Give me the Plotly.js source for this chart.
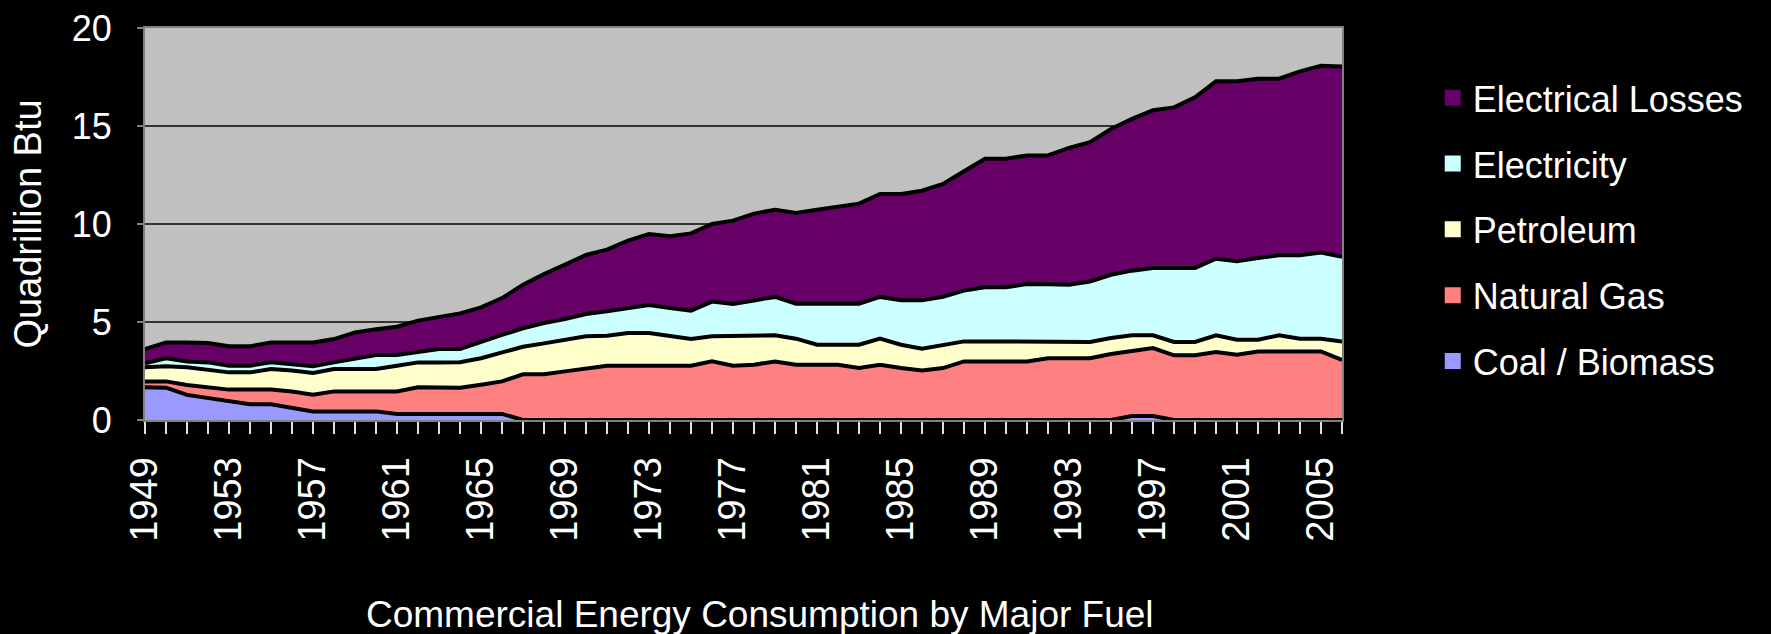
<!DOCTYPE html>
<html>
<head>
<meta charset="utf-8">
<script src="https://cdn.plot.ly/plotly-3.0.1.min.js"></script>
<style>
  html, body { margin: 0; padding: 0; background: #000000; }
  #chart { width: 1771px; height: 634px; }
</style>
</head>
<body>
<div id="chart"></div>
<script>
// ---- Data (Quadrillion Btu) ----
const years = [1949,1950,1951,1952,1953,1954,1955,1956,1957,1958,1959,1960,1961,1962,1963,1964,1965,1966,1967,1968,1969,1970,1971,1972,1973,1974,1975,1976,1977,1978,1979,1980,1981,1982,1983,1984,1985,1986,1987,1988,1989,1990,1991,1992,1993,1994,1995,1996,1997,1998,1999,2000,2001,2002,2003,2004,2005,2006];

const coalBiomass = [1.67,1.65,1.28,1.11,0.95,0.80,0.80,0.61,0.44,0.44,0.44,0.44,0.31,0.31,0.31,0.33,0.34,0.31,0,0,0,0,0,0,0,0,0,0,0,0,0,0,0,0,0,0,0,0,0,0,0,0,0,0,0,0,0,0.2,0.2,0,0,0,0,0,0,0,0,0];
const naturalGas = [0.29,0.32,0.51,0.54,0.60,0.75,0.75,0.84,0.85,1.02,1.02,1.02,1.15,1.36,1.36,1.32,1.46,1.66,2.33,2.33,2.48,2.65,2.77,2.77,2.77,2.77,2.77,2.99,2.77,2.82,2.99,2.82,2.82,2.82,2.65,2.82,2.65,2.52,2.65,2.99,2.99,2.99,2.99,3.15,3.15,3.15,3.37,3.34,3.47,3.30,3.30,3.47,3.33,3.50,3.50,3.50,3.50,3.06];
const petroleum = [0.73,0.77,0.90,0.92,0.88,0.88,1.05,1.07,1.11,1.14,1.14,1.14,1.31,1.27,1.27,1.30,1.35,1.48,1.41,1.58,1.60,1.62,1.53,1.67,1.67,1.53,1.36,1.28,1.50,1.48,1.33,1.33,1.02,1.02,1.19,1.33,1.19,1.12,1.19,1.02,1.02,1.02,1.02,0.85,0.83,0.83,0.81,0.78,0.65,0.68,0.68,0.85,0.77,0.60,0.82,0.65,0.65,0.95];
const electricity = [0.20,0.41,0.30,0.37,0.34,0.34,0.34,0.34,0.34,0.34,0.55,0.72,0.55,0.51,0.68,0.67,0.85,0.89,0.94,1.04,1.07,1.14,1.25,1.26,1.43,1.41,1.45,1.77,1.65,1.80,1.96,1.78,2.09,2.09,2.09,2.13,2.27,2.47,2.44,2.59,2.76,2.76,2.93,2.92,2.92,3.09,3.23,3.30,3.44,3.78,3.78,3.91,4.00,4.17,4.08,4.25,4.39,4.32];
const electricalLosses = [0.73,0.81,0.97,0.99,0.99,0.99,1.02,1.10,1.22,1.19,1.32,1.31,1.44,1.62,1.62,1.82,1.75,1.88,2.22,2.50,2.78,3.01,3.14,3.45,3.62,3.66,3.94,3.96,4.25,4.43,4.45,4.63,4.80,4.94,5.11,5.25,5.42,5.59,5.76,6.09,6.56,6.56,6.56,6.58,6.98,7.10,7.44,7.74,8.04,8.19,8.70,9.05,9.18,9.14,9.01,9.39,9.53,9.71];

const seriesNames = ["Coal / Biomass", "Natural Gas", "Petroleum", "Electricity", "Electrical Losses"];
const seriesValues = [coalBiomass, naturalGas, petroleum, electricity, electricalLosses];
const seriesColors = ["#9999FF", "#FF8080", "#FFFFCC", "#CCFFFF", "#660066"];
const legendOrder = ["Electrical Losses", "Electricity", "Petroleum", "Natural Gas", "Coal / Biomass"];

const chartTitle = "Commercial Energy Consumption by Major Fuel";
const yTitle = "Quadrillion Btu";

// ---- Traces ----
const traces = [];
seriesNames.forEach((name, k) => {
  traces.push({
    type: "scatter",
    mode: "lines",
    x: years,
    y: seriesValues[k],
    name: name,
    stackgroup: "fuel",
    fillcolor: seriesColors[k],
    line: { color: "#000000", width: 4, shape: "linear" },
    showlegend: false,
    hoverinfo: "skip"
  });
});
// legend entries as colour squares
legendOrder.forEach((name, k) => {
  const idx = seriesNames.indexOf(name);
  traces.push({
    type: "scatter",
    mode: "markers",
    x: [null],
    y: [null],
    name: name,
    legendgroup: "g" + k,
    marker: { symbol: "square", size: 18, color: seriesColors[idx], line: { width: 0 } },
    showlegend: true,
    hoverinfo: "skip"
  });
});

const font = "Liberation Sans, Arial, sans-serif";

const layout = {
  width: 1771,
  height: 634,
  paper_bgcolor: "#000000",
  plot_bgcolor: "#C0C0C0",
  margin: { l: 145, r: 429, t: 28, b: 214, pad: 0 },
  font: { family: font, color: "#FFFFFF", size: 35 },
  showlegend: true,
  legend: {
    xref: "container", yref: "container",
    x: 0.809, y: 0.893, xanchor: "left", yanchor: "top",
    bgcolor: "rgba(0,0,0,0)",
    font: { family: font, size: 36, color: "#FFFFFF" },
    traceorder: "grouped",
    tracegroupgap: 16,
    itemsizing: "trace"
  },
  xaxis: {
    range: [1949, 2006],
    tick0: 1949,
    dtick: 4,
    tickangle: -90,
    ticks: "outside",
    ticklen: 12,
    tickwidth: 1.5,
    tickcolor: "#E0E0E0",
    minor: { dtick: 1, tick0: 1949, ticks: "outside", ticklen: 12, tickwidth: 1.5, tickcolor: "#E0E0E0", showgrid: false },
    ticklabelstandoff: 8,
    tickfont: { family: "Liberation Sans Narrow, Arial Narrow, Liberation Sans, Arial, sans-serif", size: 38, color: "#FFFFFF" },
    showgrid: false,
    zeroline: false,
    showline: true,
    linecolor: "#808080",
    linewidth: 2,
    mirror: true
  },
  yaxis: {
    range: [0, 20],
    tick0: 0,
    dtick: 5,
    ticks: "outside",
    ticklen: 6,
    tickwidth: 1.5,
    tickcolor: "#808080",
    ticklabelstandoff: 18,
    tickfont: { family: font, size: 36, color: "#FFFFFF" },
    showgrid: true,
    gridcolor: "#333333",
    gridwidth: 1.5,
    zeroline: false,
    showline: true,
    linecolor: "#808080",
    linewidth: 2,
    mirror: true,
    title: { text: yTitle, font: { family: font, size: 38, color: "#FFFFFF" }, standoff: 18 }
  },
  annotations: [{
    text: chartTitle,
    xref: "paper", yref: "paper",
    x: 0.514, y: -0.495,
    xanchor: "center", yanchor: "middle",
    showarrow: false,
    font: { family: font, size: 37, color: "#FFFFFF" }
  }]
};

Plotly.newPlot("chart", traces, layout, { staticPlot: true, displayModeBar: false });
</script>
</body>
</html>
